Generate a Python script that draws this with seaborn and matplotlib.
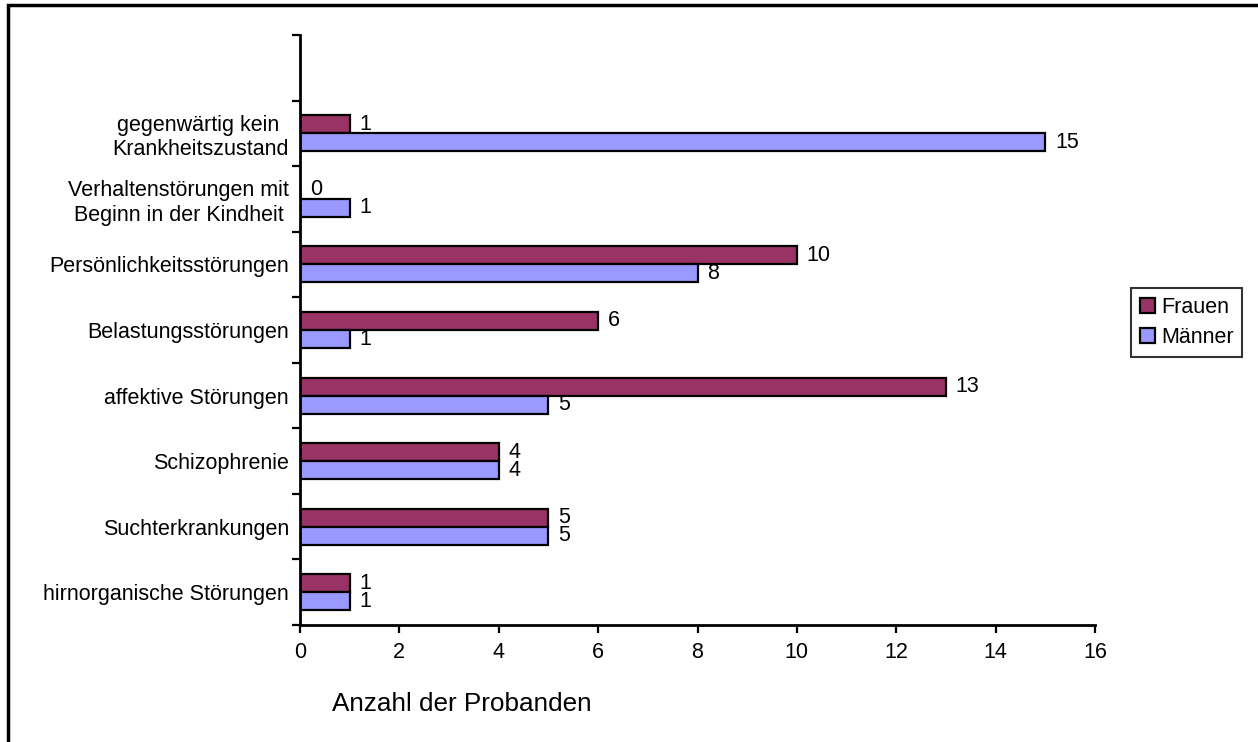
import matplotlib
matplotlib.use("Agg")
import matplotlib.pyplot as plt
from matplotlib.patches import Rectangle
import seaborn as sns
import pandas as pd

# Diagnosis groups, listed top to bottom
categories = [
    "gegenwärtig kein \nKrankheitszustand",
    "Verhaltenstörungen mit\nBeginn in der Kindheit",
    "Persönlichkeitsstörungen",
    "Belastungsstörungen",
    "affektive Störungen",
    "Schizophrenie",
    "Suchterkrankungen",
    "hirnorganische Störungen",
]
frauen = [1, 0, 10, 6, 13, 4, 5, 1]
maenner = [15, 1, 8, 1, 5, 4, 5, 1]
groups = ["Frauen", "Männer"]
xticks = [0, 2, 4, 6, 8, 10, 12, 14, 16]
xlabel = "Anzahl der Probanden"

df = pd.DataFrame({
    "Diagnose": categories * 2,
    "Gruppe": [groups[0]] * len(categories) + [groups[1]] * len(categories),
    "Anzahl": frauen + maenner,
})

sns.set_theme(style="white")
plt.rcParams["font.family"] = ["Liberation Sans", "DejaVu Sans"]
plt.rcParams["font.size"] = 15
plt.rcParams["text.color"] = "black"
plt.rcParams["xtick.color"] = "black"
plt.rcParams["ytick.color"] = "black"
plt.rcParams["xtick.labelcolor"] = "black"
plt.rcParams["ytick.labelcolor"] = "black"

FS = 15.5

fig = plt.figure(figsize=(12.58, 7.42), dpi=100)
ax = fig.add_axes([300 / 1258, 1 - 625 / 742, 795 / 1258, 590 / 742])

palette = {"Frauen": "#993366", "Männer": "#9999FF"}
sns.barplot(
    data=df, y="Diagnose", x="Anzahl", hue="Gruppe", order=categories,
    hue_order=groups, palette=palette, orient="h", width=0.55,
    edgecolor="black", linewidth=1.6, saturation=1, ax=ax, legend=True,
)

for cont in ax.containers:
    ax.bar_label(cont, fmt="%d", padding=7, fontsize=FS, color="black")

ax.set_xlim(0, 16)
ax.set_ylim(len(categories) - 0.5, -1.5)
ax.set_xticks(xticks)
ax.set_xticklabels([str(t) for t in xticks])
ax.set_yticks(range(len(categories)))
ax.set_yticklabels(categories, ha="right", multialignment="center")
ax.set_yticks([i - 0.5 for i in range(len(categories) + 1)] + [-1.5], minor=True)
ax.tick_params(axis="y", which="major", length=0, pad=8, labelsize=FS)
ax.tick_params(axis="y", which="minor", left=True, length=6, width=1.6, color="black")
ax.tick_params(axis="x", which="major", bottom=True, length=6, width=1.6,
               color="black", pad=6, labelsize=FS)
ax.set_xlabel("")
ax.set_ylabel("")
for side in ["top", "right"]:
    ax.spines[side].set_visible(False)
for side in ["left", "bottom"]:
    ax.spines[side].set_color("black")
    ax.spines[side].set_linewidth(2)

handles, labels = ax.get_legend_handles_labels()
ax.get_legend().remove()
leg = fig.legend(
    handles, labels, loc="upper left",
    bbox_to_anchor=(1131 / 1258, 1 - 288 / 742),
    frameon=True, fancybox=False, fontsize=FS, handlelength=0.7,
    handleheight=0.7, handletextpad=0.3, borderpad=0.4, labelspacing=0.45,
    borderaxespad=0,
)
leg.get_frame().set_edgecolor("black")
leg.get_frame().set_linewidth(1.5)
for t in leg.get_texts():
    t.set_color("black")

fig.text(462 / 1258, 1 - 704 / 742, xlabel, ha="center", va="center",
         fontsize=18.8, color="black")

# outer chart frame
fig.patches.append(Rectangle((8 / 1258, -0.1), 1.2, 1 - 5 / 742 + 0.1,
                             transform=fig.transFigure, fill=False,
                             edgecolor="black", linewidth=2.5))

fig.savefig("out.png", dpi=100)
